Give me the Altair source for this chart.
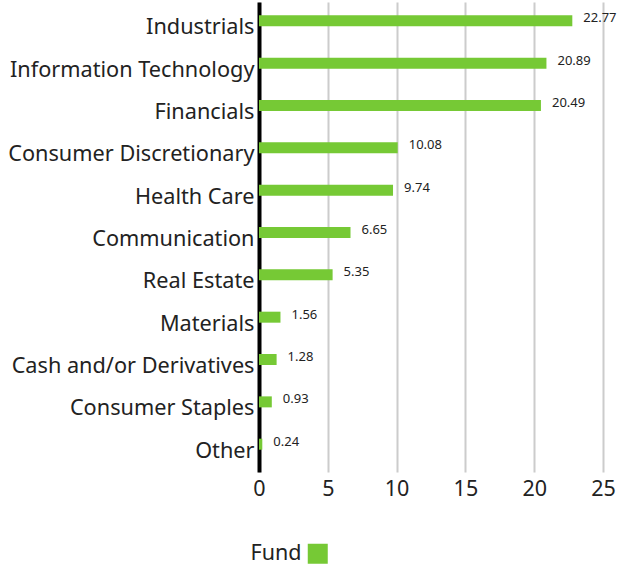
import altair as alt
import pandas as pd

categories = ["Industrials", "Information Technology", "Financials", "Consumer Discretionary",
              "Health Care", "Communication", "Real Estate", "Materials",
              "Cash and/or Derivatives", "Consumer Staples", "Other"]
values = [22.77, 20.89, 20.49, 10.08, 9.74, 6.65, 5.35, 1.56, 1.28, 0.93, 0.24]
series = ["Fund"] * len(categories)

df = pd.DataFrame({"sector": categories, "value": values, "series": series})
df["label"] = df["value"].map(lambda v: f"{v:.2f}")

FONT = "Noto Sans"
GREEN = "#76c935"

y_enc = alt.Y("sector:N", sort=categories, title=None,
              scale=alt.Scale(paddingInner=0, paddingOuter=0.05),
              axis=alt.Axis(domain=True, domainColor="#000000", domainWidth=4,
                            ticks=False, labelFontSize=21.7, labelColor="#222222",
                            labelFont=FONT, labelPadding=5, labelLimit=0,
                            labelOffset=2, grid=False))
x_enc = alt.X("value:Q", title=None,
              scale=alt.Scale(domain=[0, 25], nice=False),
              axis=alt.Axis(values=[0, 5, 10, 15, 20, 25], domain=False, ticks=False,
                            grid=True, gridColor="#cccccc", gridWidth=2,
                            labelFontSize=21.5, labelColor="#222222", labelFont=FONT,
                            labelPadding=6, labelFlush=False))

bars = alt.Chart(df).mark_bar(size=11, yOffset=-4.5).encode(
    x=x_enc, y=y_enc,
    color=alt.Color("series:N", scale=alt.Scale(range=[GREEN]), title=None,
                    legend=alt.Legend(orient="none", legendX=48, legendY=541,
                                      symbolType="square", symbolSize=400,
                                      symbolStrokeWidth=0, labelFontSize=21.5,
                                      labelFont=FONT, labelColor="#222222",
                                      labelAlign="right", labelOffset={"expr": "-27"},
                                      padding=0)),
)

text = alt.Chart(df).mark_text(align="left", dx=11, dy=-7, fontSize=13,
                               font=FONT, color="#222222").encode(
    x="value:Q", y=alt.Y("sector:N", sort=categories), text="label:N")

chart = alt.layer(bars, text).properties(
    width=344, height=470,
    autosize=alt.AutoSizeParams(type="none"),
    padding={"left": 259, "top": 2, "right": 18, "bottom": 94},
).configure_view(stroke=None)

chart.save("out.html", embed_options={"renderer": "svg", "actions": False})
